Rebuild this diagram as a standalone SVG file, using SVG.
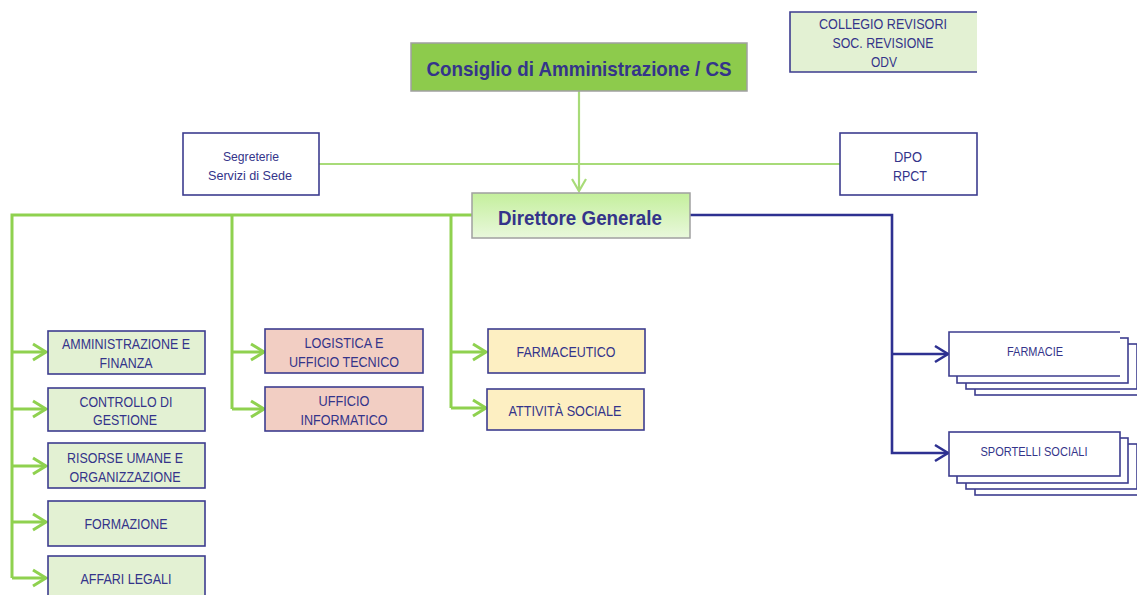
<svg xmlns="http://www.w3.org/2000/svg" width="1137" height="595" viewBox="0 0 1137 595">
<style>
text{font-family:"Liberation Sans",Arial,sans-serif;fill:#34348a;text-anchor:middle}
.t{font-size:14.5px}
.s{font-size:13px}
.b{font-weight:bold}
.box{stroke:#3d3d8f;stroke-width:1.6}
.g{fill:#e3f1d3}
.p{fill:#f2cec3}
.y{fill:#fdefc2}
.w{fill:#ffffff}
.gl{fill:none;stroke:#8fd14f;stroke-width:3}
.gl2{fill:none;stroke:#a8db78;stroke-width:2.2}
.bl{fill:none;stroke:#2e3191;stroke-width:2.6}
</style>
<defs>
<marker id="ag" markerUnits="userSpaceOnUse" markerWidth="20" markerHeight="20" viewBox="-16 -10 20 20" refX="0" refY="0" orient="auto">
<path d="M-13,-8 L0,0 L-13,8" fill="none" stroke="#8fd14f" stroke-width="3"/>
</marker>
<marker id="ag2" markerUnits="userSpaceOnUse" markerWidth="20" markerHeight="20" viewBox="-16 -10 20 20" refX="0" refY="0" orient="auto">
<path d="M-12,-7 L0,0 L-12,7" fill="none" stroke="#a8db78" stroke-width="2.2"/>
</marker>
<marker id="ab" markerUnits="userSpaceOnUse" markerWidth="20" markerHeight="20" viewBox="-16 -10 20 20" refX="0" refY="0" orient="auto">
<path d="M-13,-8 L0,0 L-13,8" fill="none" stroke="#2e3191" stroke-width="2.6"/>
</marker>
<linearGradient id="dg" x1="0" y1="0" x2="0" y2="1">
<stop offset="0" stop-color="#c4ef9c"/>
<stop offset="1" stop-color="#e9f8dc"/>
</linearGradient>
</defs>

<g id="connectors">
<path class="gl2" d="M579,91 V191" marker-end="url(#ag2)"/>
<path class="gl2" d="M319,164 H840"/>
<path class="gl" d="M472,215 H12 V578"/>
<path class="gl" d="M12,352 H46" marker-end="url(#ag)"/>
<path class="gl" d="M12,409 H46" marker-end="url(#ag)"/>
<path class="gl" d="M12,466 H46" marker-end="url(#ag)"/>
<path class="gl" d="M12,522 H46" marker-end="url(#ag)"/>
<path class="gl" d="M12,578 H46" marker-end="url(#ag)"/>
<path class="gl" d="M232,215 V409"/>
<path class="gl" d="M232,352 H264" marker-end="url(#ag)"/>
<path class="gl" d="M232,409 H264" marker-end="url(#ag)"/>
<path class="gl" d="M451,215 V408"/>
<path class="gl" d="M451,352 H486" marker-end="url(#ag)"/>
<path class="gl" d="M451,408 H486" marker-end="url(#ag)"/>
<path class="bl" d="M690,215 H892 V453 H948" marker-end="url(#ab)"/>
<path class="bl" d="M892,354 H948" marker-end="url(#ab)"/>
</g>

<g id="consiglio">
<rect x="411" y="43" width="336" height="48" fill="#8dcb4c" stroke="#a0a0a0" stroke-width="1.5"/>
<text x="579" y="76" class="b" font-size="21" textLength="305" lengthAdjust="spacingAndGlyphs">Consiglio di Amministrazione / CS</text>
</g>

<g id="collegio">
<rect x="790" y="12" width="187" height="60" class="g"/>
<path d="M977,12 H790 V72 H977" fill="none" stroke="#3d3d8f" stroke-width="1.6"/>
<text x="883" y="29" class="t" textLength="128" lengthAdjust="spacingAndGlyphs">COLLEGIO REVISORI</text>
<text x="883" y="48" class="t" textLength="101" lengthAdjust="spacingAndGlyphs">SOC. REVISIONE</text>
<text x="884" y="67" class="t" textLength="26" lengthAdjust="spacingAndGlyphs">ODV</text>
</g>

<g id="segreterie">
<rect x="183" y="133" width="136" height="62" class="box w"/>
<text x="251" y="161" class="s" textLength="56" lengthAdjust="spacingAndGlyphs">Segreterie</text>
<text x="250" y="180" class="s" textLength="84" lengthAdjust="spacingAndGlyphs">Servizi di Sede</text>
</g>

<g id="dpo">
<rect x="840" y="133" width="137" height="62" class="box w"/>
<text x="908" y="162" class="t" textLength="28" lengthAdjust="spacingAndGlyphs">DPO</text>
<text x="910" y="181" class="t" textLength="34" lengthAdjust="spacingAndGlyphs">RPCT</text>
</g>

<g id="direttore">
<rect x="472" y="193" width="218" height="45" fill="url(#dg)" stroke="#a0a0a0" stroke-width="1.5"/>
<text x="580" y="225" class="b" font-size="20" textLength="164" lengthAdjust="spacingAndGlyphs">Direttore Generale</text>
</g>

<g id="amministrazione">
<rect x="48" y="331" width="157" height="43" class="box g"/>
<text x="126" y="349" class="t" textLength="128" lengthAdjust="spacingAndGlyphs">AMMINISTRAZIONE E</text>
<text x="126" y="368" class="t" textLength="53" lengthAdjust="spacingAndGlyphs">FINANZA</text>
</g>

<g id="controllo">
<rect x="48" y="388" width="157" height="43" class="box g"/>
<text x="126" y="407" class="t" textLength="93" lengthAdjust="spacingAndGlyphs">CONTROLLO DI</text>
<text x="125" y="425" class="t" textLength="64" lengthAdjust="spacingAndGlyphs">GESTIONE</text>
</g>

<g id="risorse">
<rect x="48" y="443" width="157" height="45" class="box g"/>
<text x="125" y="463" class="t" textLength="116" lengthAdjust="spacingAndGlyphs">RISORSE UMANE E</text>
<text x="125" y="482" class="t" textLength="111" lengthAdjust="spacingAndGlyphs">ORGANIZZAZIONE</text>
</g>

<g id="formazione">
<rect x="48" y="501" width="157" height="45" class="box g"/>
<text x="126" y="529" class="t" textLength="83" lengthAdjust="spacingAndGlyphs">FORMAZIONE</text>
</g>

<g id="affari">
<rect x="48" y="556" width="157" height="45" class="box g"/>
<text x="126" y="584" class="t" textLength="91" lengthAdjust="spacingAndGlyphs">AFFARI LEGALI</text>
</g>

<g id="logistica">
<rect x="265" y="329" width="158" height="44" class="box p"/>
<text x="344" y="348" class="t" textLength="79" lengthAdjust="spacingAndGlyphs">LOGISTICA E</text>
<text x="344" y="367" class="t" textLength="110" lengthAdjust="spacingAndGlyphs">UFFICIO TECNICO</text>
</g>

<g id="informatico">
<rect x="265" y="387" width="158" height="44" class="box p"/>
<text x="344" y="406" class="t" textLength="51" lengthAdjust="spacingAndGlyphs">UFFICIO</text>
<text x="344" y="425" class="t" textLength="87" lengthAdjust="spacingAndGlyphs">INFORMATICO</text>
</g>

<g id="farmaceutico">
<rect x="488" y="329" width="157" height="44" class="box y"/>
<text x="566" y="357" class="t" textLength="99" lengthAdjust="spacingAndGlyphs">FARMACEUTICO</text>
</g>

<g id="attivita">
<rect x="487" y="389" width="157" height="41" class="box y"/>
<text x="565" y="416" class="t" textLength="113" lengthAdjust="spacingAndGlyphs">ATTIVITÀ SOCIALE</text>
</g>

<g id="farmacie">
<rect x="975" y="351" width="171" height="44" class="box w"/>
<rect x="966" y="344" width="171" height="45" class="box w"/>
<rect x="957" y="338" width="171" height="45" class="box w"/>
<rect x="949" y="332" width="171" height="44" class="w"/>
<path d="M1120,332 H949 V376 H1120" fill="none" stroke="#3d3d8f" stroke-width="1.6"/>
<text x="1035" y="356" class="s" textLength="56" lengthAdjust="spacingAndGlyphs">FARMACIE</text>
</g>

<g id="sportelli">
<rect x="975" y="451" width="171" height="44" class="box w"/>
<rect x="966" y="444" width="171" height="45" class="box w"/>
<rect x="957" y="438" width="171" height="45" class="box w"/>
<rect x="949" y="432" width="171" height="44" class="box w"/>
<text x="1034" y="456" class="s" textLength="107" lengthAdjust="spacingAndGlyphs">SPORTELLI SOCIALI</text>
</g>
</svg>
